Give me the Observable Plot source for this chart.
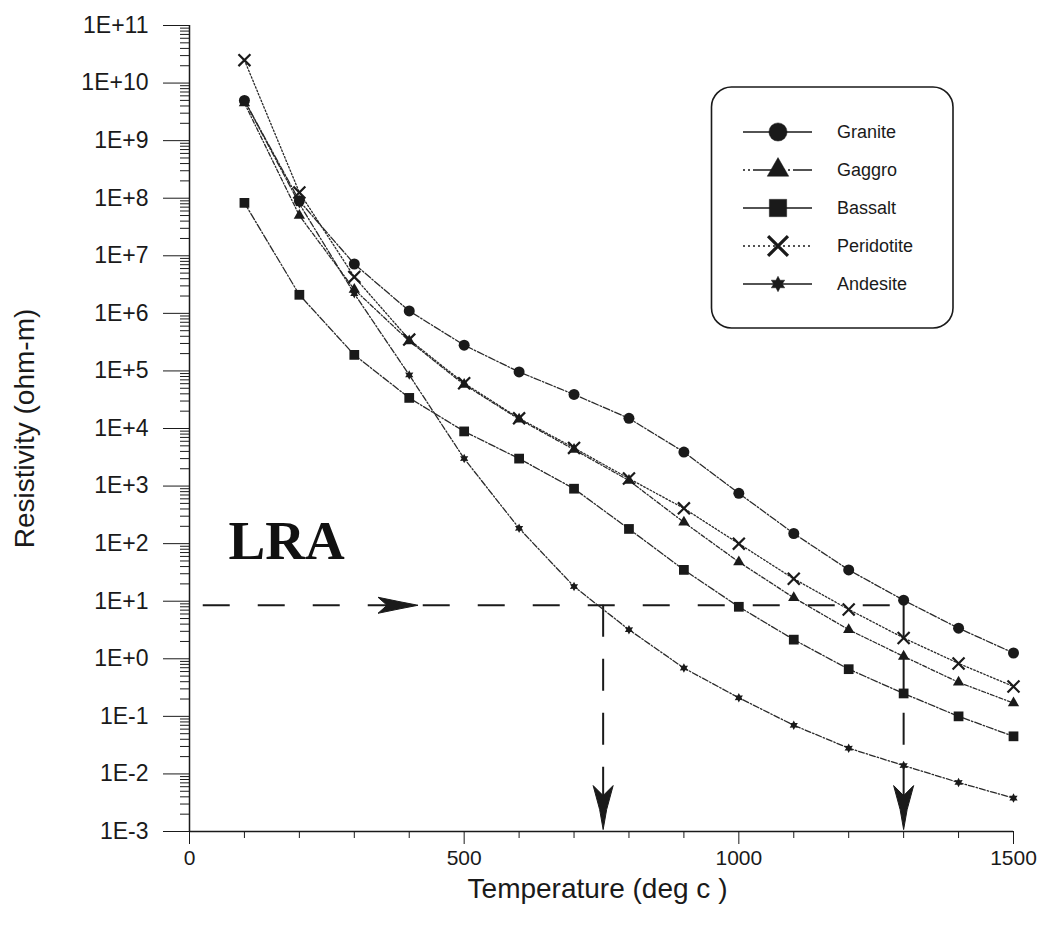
<!DOCTYPE html>
<html>
<head>
<meta charset="utf-8">
<script src="https://cdn.jsdelivr.net/npm/d3@7"></script>
<script src="https://cdn.jsdelivr.net/npm/@observablehq/plot@0.6"></script>
<style>
  html, body { margin: 0; padding: 0; background: #fff; }
  #chart svg { display: block; }
</style>
</head>
<body>
<div id="chart"></div>
<script>
// ---------- data ----------
const temps = [100, 200, 300, 400, 500, 600, 700, 800, 900, 1000, 1100, 1200, 1300, 1400, 1500];
const granite    = [5e9, 9e7, 7.2e6, 1.1e6, 2.8e5, 9.6e4, 3.9e4, 1.5e4, 3.9e3, 750, 150, 35, 10.4, 3.4, 1.26];
const gabbro     = [4.5e9, 5e7, 2.6e6, 3.3e5, 5.8e4, 1.45e4, 4.3e3, 1.25e3, 235, 48, 11.5, 3.2, 1.1, 0.39, 0.17];
const basalt     = [8.3e7, 2.1e6, 1.9e5, 3.4e4, 8.9e3, 3e3, 900, 180, 35, 8, 2.15, 0.66, 0.25, 0.10, 0.045];
const peridotite = [2.5e10, 1.26e8, 4.3e6, 3.5e5, 6.1e4, 1.5e4, 4.6e3, 1.35e3, 410, 100, 24.5, 7.2, 2.3, 0.83, 0.33];
const andesite   = [5e9, 8e7, 2.2e6, 8.5e4, 3e3, 185, 18, 3.2, 0.69, 0.21, 0.07, 0.028, 0.014, 0.0071, 0.0038];
const seriesNames = ["Granite", "Gaggro", "Bassalt", "Peridotite", "Andesite"];

const yTickValues = [1e11, 1e10, 1e9, 1e8, 1e7, 1e6, 1e5, 1e4, 1e3, 1e2, 1e1, 1e0, 1e-1, 1e-2, 1e-3];
const yTickLabels = ["1E+11", "1E+10", "1E+9", "1E+8", "1E+7", "1E+6", "1E+5", "1E+4", "1E+3", "1E+2", "1E+1", "1E+0", "1E-1", "1E-2", "1E-3"];
const xTickLabels = [0, 500, 1000, 1500];
const xMinorTicks = [100, 200, 300, 400, 600, 700, 800, 900, 1100, 1200, 1300, 1400];

// LRA annotation
const lraLevel = 8.5;          // horizontal dashed line (ohm-m)
const lraLineStart = 25;       // deg c
const lraCrossings = [753, 1300];
const lraArrowRight = 416;     // tip of right-pointing arrow (deg c)
const lraArrowDownTip = 1.08e-3;
const lraLabel = {text: "LRA", T: 71, R: 111};

// ---------- tables ----------
const seriesValues = [granite, gabbro, basalt, peridotite, andesite];
const rows = seriesNames.flatMap((name, k) => temps.map((t, i) => ({series: name, T: t, R: seriesValues[k][i]})));
const of = name => rows.filter(d => d.series === name);

const minorY = [];
for (let e = -3; e < 11; e++) for (let m = 2; m <= 9; m++) minorY.push(m * Math.pow(10, e));

// ---------- custom symbols ----------
const hexStar = {
  draw(ctx, size) {
    const R = Math.sqrt(size / Math.PI) * 1.25, r = R * 0.55;
    for (let i = 0; i < 12; i++) {
      const a = -Math.PI / 2 + i * Math.PI / 6, rr = i % 2 ? r : R;
      i ? ctx.lineTo(rr * Math.cos(a), rr * Math.sin(a)) : ctx.moveTo(rr * Math.cos(a), rr * Math.sin(a));
    }
    ctx.closePath();
  }
};
const arrowRight = {
  draw(ctx) {
    ctx.moveTo(0, 0); ctx.lineTo(-18, -3.5); ctx.lineTo(-40, -8); ctx.lineTo(-31, 0);
    ctx.lineTo(-40, 8); ctx.lineTo(-18, 3.5); ctx.closePath();
  }
};
const arrowDown = {
  draw(ctx) {
    ctx.moveTo(0, 0); ctx.lineTo(-3.5, -20); ctx.lineTo(-10, -44); ctx.lineTo(0, -34);
    ctx.lineTo(10, -44); ctx.lineTo(3.5, -20); ctx.closePath();
  }
};

const ink = "#1a1a1a";
const lineStyle = {
  Granite: "7,2,1.5,2",
  Gaggro: "4,2,1.2,2",
  Bassalt: "7,2,1.5,2",
  Peridotite: "1.6,2",
  Andesite: "6,2,1.5,2"
};

const chart = Plot.plot({
  width: 1044,
  height: 935,
  marginLeft: 189,
  marginRight: 31,
  marginTop: 25,
  marginBottom: 104,
  style: {fontFamily: "'Liberation Sans', Arial, sans-serif", background: "#fff", color: ink},
  x: {domain: [0, 1500]},
  y: {type: "log", domain: [1e-3, 1e11]},
  marks: [
    // axes
    Plot.axisY(minorY, {tickSize: 9, tickFormat: () => "", label: null, stroke: ink}),
    Plot.axisY(yTickValues, {tickSize: 26, tickPadding: 15, fontSize: 23, label: null, stroke: ink,
      tickFormat: d => yTickLabels[yTickValues.indexOf(d)]}),
    Plot.axisX(xMinorTicks, {tickSize: 7, tickFormat: () => "", label: null, stroke: ink}),
    Plot.axisX(xTickLabels, {tickSize: 13, tickPadding: 6, fontSize: 21, label: null, stroke: ink,
      tickFormat: d => String(d)}),
    Plot.ruleX([0], {stroke: ink, strokeWidth: 1.5}),
    Plot.ruleY([1e-3], {stroke: ink, strokeWidth: 1.5}),
    Plot.text(["Resistivity (ohm-m)"], {frameAnchor: "left", dx: -164, rotate: -90, textAnchor: "middle",
      lineAnchor: "middle", fontSize: 28, fill: ink}),
    Plot.text(["Temperature (deg c )"], {frameAnchor: "bottom", dx: -4, dy: 58, textAnchor: "middle",
      lineAnchor: "middle", fontSize: 28, fill: ink}),

    // LRA annotation
    Plot.ruleY([lraLevel], {x1: lraLineStart, x2: lraCrossings[1], stroke: ink, strokeWidth: 2, strokeDasharray: "27,28"}),
    Plot.ruleX(lraCrossings, {y1: lraLevel, y2: 2.2e-3, stroke: ink, strokeWidth: 2, strokeDasharray: "32,22"}),
    Plot.dot([lraArrowRight], {x: d => d, y: lraLevel, symbol: arrowRight, fill: ink, stroke: ink, strokeWidth: 1}),
    Plot.dot(lraCrossings, {x: d => d, y: lraArrowDownTip, symbol: arrowDown, fill: ink, stroke: ink, strokeWidth: 1}),
    Plot.text([lraLabel], {x: "T", y: "R", text: "text", textAnchor: "start", lineAnchor: "middle", fontSize: 55, fontWeight: "bold",
      fontFamily: "'Liberation Serif', 'Times New Roman', serif", fill: "#111"}),

    // series lines
    ...seriesNames.map(name => Plot.line(of(name), {x: "T", y: "R", stroke: "#2a2a2a", strokeWidth: 1.3, strokeDasharray: lineStyle[name]})),

    // markers
    Plot.dot(of("Granite"), {x: "T", y: "R", symbol: "circle", r: 5.5, fill: ink, stroke: "none"}),
    Plot.dot(of("Gaggro"), {x: "T", y: "R", symbol: "triangle", r: 4.2, fill: ink, stroke: "none"}),
    Plot.dot(of("Bassalt"), {x: "T", y: "R", symbol: "square", r: 5.5, fill: ink, stroke: "none"}),
    Plot.dot(of("Peridotite"), {x: "T", y: "R", symbol: "times", r: 5.5, fill: "none", stroke: ink, strokeWidth: 2.2}),
    Plot.dot(of("Andesite"), {x: "T", y: "R", symbol: hexStar, r: 3.8, fill: ink, stroke: "none"})
  ]
});

document.getElementById("chart").appendChild(chart);

// ---------- legend (drawn inside the plot area, top right) ----------
const svg = d3.select(chart);
const lg = svg.append("g").attr("text-anchor", "start");
lg.append("rect")
  .attr("x", 711.5).attr("y", 87).attr("width", 241.5).attr("height", 241).attr("rx", 20)
  .attr("fill", "#fff").attr("stroke", ink).attr("stroke-width", 1.6);

const legendSymbols = [
  {type: d3.symbolCircle, size: 260, fill: true, dash: null},
  {type: d3.symbolTriangle, size: 200, fill: true, dash: "2,3,2,3,30,0"},
  {type: d3.symbolSquare, size: 300, fill: true, dash: null},
  {type: d3.symbolTimes, size: 260, fill: false, dash: "2,3"},
  {type: hexStar, size: 120, fill: true, dash: null}
];
seriesNames.forEach((name, i) => {
  const y = 132 + i * 38;
  const s = legendSymbols[i];
  lg.append("line").attr("x1", 743).attr("x2", 812).attr("y1", y).attr("y2", y)
    .attr("stroke", ink).attr("stroke-width", 1.6).attr("stroke-dasharray", s.dash);
  lg.append("path").attr("transform", `translate(778,${y})`)
    .attr("d", d3.symbol().type(s.type).size(s.size)())
    .attr("fill", s.fill ? ink : "none").attr("stroke", ink).attr("stroke-width", s.fill ? 0.5 : 3.2);
  lg.append("text").attr("x", 837).attr("y", y).attr("dy", "0.35em")
    .attr("text-anchor", "start").attr("font-size", 18).attr("fill", ink).text(name);
});
</script>
</body>
</html>
